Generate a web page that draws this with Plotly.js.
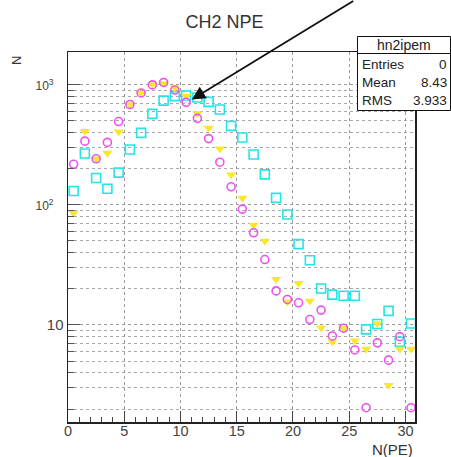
<!DOCTYPE html>
<html>
<head>
<meta charset="utf-8">
<script src="https://cdn.plot.ly/plotly-3.0.1.min.js"></script>
<style>
  html, body { margin: 0; padding: 0; background: #ffffff; }
  #chart { width: 451px; height: 457px; }
</style>
</head>
<body>
<div id="chart"></div>
<script>
// Bin centres of the N(PE) histograms (unit-width bins from 0 to 31)
const binCenters = [0.5, 1.5, 2.5, 3.5, 4.5, 5.5, 6.5, 7.5, 8.5, 9.5,
                    10.5, 11.5, 12.5, 13.5, 14.5, 15.5, 16.5, 17.5, 18.5, 19.5,
                    20.5, 21.5, 22.5, 23.5, 24.5, 25.5, 26.5, 27.5, 28.5, 29.5, 30.5];

// Cyan open squares
const countsCyan = [130, 267, 167, 136, 185, 288, 396, 570, 735, 800,
                    810, 780, 717, 620, 453, 363, 262, 179, 114, 83,
                    47, 34.5, 20.1, 17.9, 17.5, 17.5, 9.2, 10.2, 13.1, 7.25, 10.3];

// Magenta open circles
const countsMagenta = [217, 338, 241, 330, 492, 682, 851, 993, 1040, 900,
                       712, 523, 355, 226, 141, 92, 58.5, 35, 19.2, 16.3,
                       15.3, 11.1, 13.3, 8.1, 9.4, 6.2, 2.05, 7.1, 5.1, 8.0, 2.05];

// Yellow filled down-triangles
const countsYellow = [85, 409, 241, 270, 404, 682, 851, 1000, 1020, 940,
                      800, 574, 435, 292, 178, 114, 68, 50, 24, 15.6,
                      22.2, 15.8, 9.5, 7.25, 9.4, 7.4, 6.3, 10.3, 3.16, 6.3, 6.3];

// Axis ticks
const xTickVals = [0, 5, 10, 15, 20, 25, 30];
const xTickText = ['0', '5', '10', '15', '20', '25', '30'];
const yTickVals = [10, 100, 1000];
const yTickText = ['10',
                   '<span style="font-size:12px">10<sup>2</sup>\u00a0\u00a0\u00a0</span>',
                   '<span style="font-size:12px">10<sup>3</sup>\u00a0\u00a0\u00a0</span>'];
const yMinorVals = [2, 3, 4, 5, 6, 7, 8, 9,
                    20, 30, 40, 50, 60, 70, 80, 90,
                    200, 300, 400, 500, 600, 700, 800, 900];

// Statistics box contents
const statsTitle = 'hn2ipem';
const statsLabels = ['Entries', 'Mean', 'RMS'];
const statsValues = ['0', '8.43', '3.933'];

// Arrow target (data coordinates)
const arrowX = 11.0;
const arrowY = 750;

const FONT = 'Liberation Sans, Arial, Helvetica, sans-serif';
const W = 451, H = 457;
const M = { l: 68, r: 36, t: 52, b: 35 };
const plotW = W - M.l - M.r;
const plotH = H - M.t - M.b;
// pixel -> paper helpers for the frame decorations
const px = (p) => (p - M.l) / plotW;
const py = (p) => (H - M.b - p) / plotH;

const traces = [
  {
    x: binCenters, y: countsCyan, type: 'scatter', mode: 'markers',
    marker: { symbol: 'square-open', size: 9, color: '#22e5e8', line: { width: 1.6, color: '#22e5e8' } },
    hoverinfo: 'skip'
  },
  {
    x: binCenters, y: countsYellow, type: 'scatter', mode: 'markers',
    marker: { symbol: 'triangle-down', size: 9, color: '#f8e72c', line: { width: 0 } },
    hoverinfo: 'skip'
  },
  {
    x: binCenters, y: countsMagenta, type: 'scatter', mode: 'markers',
    marker: { symbol: 'circle-open', size: 8, color: '#f050ef', line: { width: 1.6, color: '#f050ef' } },
    hoverinfo: 'skip'
  }
];

const annotations = [
  // y axis title at the top of the axis
  { text: 'N', xref: 'paper', yref: 'paper', x: px(16.5), y: py(60.5), textangle: -90,
    showarrow: false, xanchor: 'center', yanchor: 'middle', font: { family: FONT, size: 13, color: '#333' } },
  // x axis title, right aligned
  { text: 'N(PE)', xref: 'paper', yref: 'paper', x: 1, y: py(449.5), showarrow: false,
    xanchor: 'right', yanchor: 'middle', font: { family: FONT, size: 15, color: '#333' } },
  // arrow coming in from the top edge
  { text: '', x: arrowX, y: Math.log10(arrowY), xref: 'x', yref: 'y',
    showarrow: true, arrowhead: 2, arrowsize: 1.5, arrowwidth: 1.8, arrowcolor: '#111',
    ax: 163, ay: -120, standoff: 0 },
  // statistics box
  { text: statsTitle, xref: 'paper', yref: 'paper', x: px(404), y: py(45), showarrow: false,
    xanchor: 'center', yanchor: 'middle', font: { family: FONT, size: 14, color: '#222' } }
];
const statsRows = [65, 82.5, 100];
statsLabels.forEach((lab, i) => {
  annotations.push({ text: lab, xref: 'paper', yref: 'paper', x: px(360), y: py(statsRows[i]),
    showarrow: false, xanchor: 'left', yanchor: 'middle', font: { family: FONT, size: 13.5, color: '#222' } });
  annotations.push({ text: statsValues[i], xref: 'paper', yref: 'paper', x: px(448.5), y: py(statsRows[i]),
    showarrow: false, xanchor: 'right', yanchor: 'middle', font: { family: FONT, size: 13.5, color: '#222' } });
});

const shapes = [
  { type: 'rect', xref: 'paper', yref: 'paper', x0: px(357.5), x1: px(450.5), y0: py(110.5), y1: py(36.5),
    line: { color: '#111', width: 1 }, fillcolor: '#ffffff', layer: 'above' },
  { type: 'line', xref: 'paper', yref: 'paper', x0: px(357.5), x1: px(450.5), y0: py(53.5), y1: py(53.5),
    line: { color: '#111', width: 1 }, layer: 'above' }
];

const layout = {
  width: W, height: H,
  margin: { l: M.l, r: M.r, t: M.t, b: M.b, pad: 0 },
  paper_bgcolor: '#ffffff', plot_bgcolor: '#ffffff',
  showlegend: false,
  font: { family: FONT, color: '#333' },
  title: { text: 'CH2 NPE', x: 224.5 / W, xanchor: 'center', y: 1 - 21.5 / H, yanchor: 'middle',
           font: { family: FONT, size: 18, color: '#333' } },
  xaxis: {
    range: [0, 30.85], tickmode: 'array', tickvals: xTickVals, ticktext: xTickText,
    ticks: 'inside', ticklen: 11, tickwidth: 1, tickcolor: '#444', ticklabelstandoff: -5,
    tickfont: { family: FONT, size: 14.5, color: '#444' },
    showline: true, linecolor: '#222', linewidth: 1.5, mirror: true,
    showgrid: true, gridcolor: '#9a9a9a', gridwidth: 1, griddash: 'dot', zeroline: false,
    minor: { dtick: 1, tick0: 0, ticks: 'inside', ticklen: 5, tickcolor: '#444', showgrid: false }
  },
  yaxis: {
    type: 'log', range: [0.193, 3.2705], tickmode: 'array', tickvals: yTickVals, ticktext: yTickText,
    ticks: 'inside', ticklen: 12, tickwidth: 1, tickcolor: '#555',
    tickfont: { family: FONT, size: 15, color: '#444' },
    showline: true, linecolor: '#222', linewidth: 1.5, mirror: true,
    showgrid: true, gridcolor: '#9a9a9a', gridwidth: 1, griddash: 'dot', zeroline: false,
    minor: { tickmode: 'array', tickvals: yMinorVals, ticks: 'inside', ticklen: 6, tickcolor: '#555',
             showgrid: true, gridcolor: '#a8a8a8', gridwidth: 1, griddash: 'dot' }
  },
  annotations: annotations,
  shapes: shapes
};

Plotly.newPlot('chart', traces, layout, { staticPlot: true, displayModeBar: false });
</script>
</body>
</html>
